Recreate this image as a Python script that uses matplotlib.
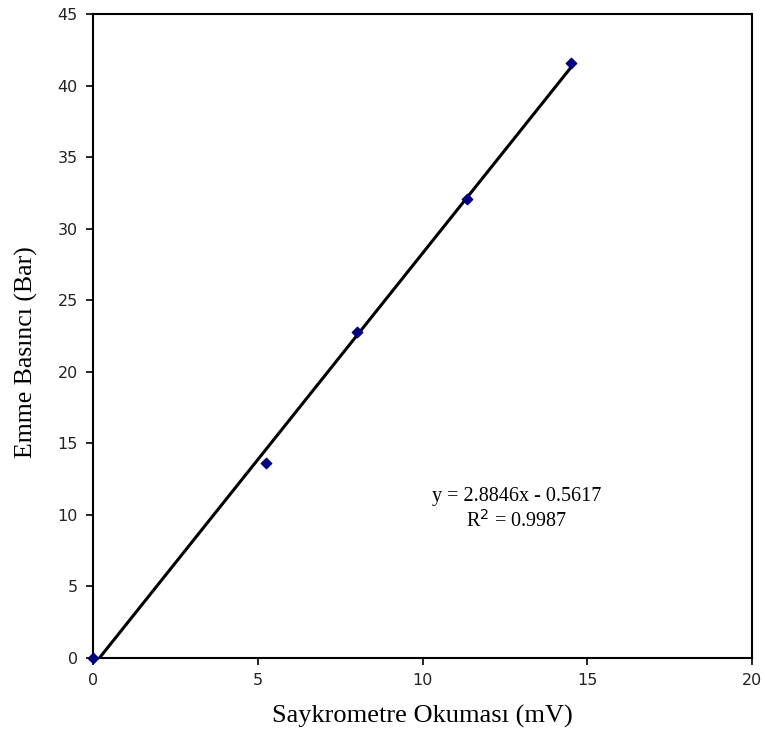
import numpy as np
import matplotlib
matplotlib.use("Agg")
import matplotlib.pyplot as plt

# Measured readings
readings_mv = [0.0, 5.25, 8.0, 11.35, 14.5]
suction_bar = [0.0, 13.6, 22.8, 32.1, 41.6]

# Linear fit reported on the chart
slope = 2.8846
intercept = -0.5617
r_squared = 0.9987

x_ticks = [0, 5, 10, 15, 20]
y_ticks = [0, 5, 10, 15, 20, 25, 30, 35, 40, 45]

fig = plt.figure(figsize=(7.65, 7.46), dpi=100)
ax = fig.add_axes([0.1216, 0.118, 0.8614, 0.863])

xf = np.array([readings_mv[0], readings_mv[-1]])
ax.plot(xf, slope * xf + intercept, color="black", lw=2.2, zorder=2)
ax.scatter(readings_mv, suction_bar, marker="D", s=28, color="#000080",
           edgecolors="#000080", zorder=3, clip_on=False)

ax.set_xlim(0, 20)
ax.set_ylim(0, 45)
ax.set_xticks(x_ticks)
ax.set_yticks(y_ticks)
ax.tick_params(direction="out", length=5, width=1.2, labelsize=11.5,
               colors="black", pad=6)
for lbl in ax.get_xticklabels() + ax.get_yticklabels():
    lbl.set_color("#222222")
for s in ax.spines.values():
    s.set_linewidth(1.5)

serif = ["Liberation Serif", "DejaVu Serif"]
ax.set_xlabel("Saykrometre Okuması (mV)", family=serif, fontsize=19)
ax.set_ylabel("Emme Basıncı (Bar)", family=serif, fontsize=18.5)
ax.xaxis.set_label_coords(0.5, -0.073)
ax.yaxis.set_label_coords(-0.084, 0.475)

ax.text(12.85, 10.4, f"y = {slope}x - {abs(intercept)}\nR$^2$ = {r_squared}",
        family=serif, fontsize=14.5, ha="center", va="center", linespacing=1.2)

fig.savefig("out.png", dpi=100)
